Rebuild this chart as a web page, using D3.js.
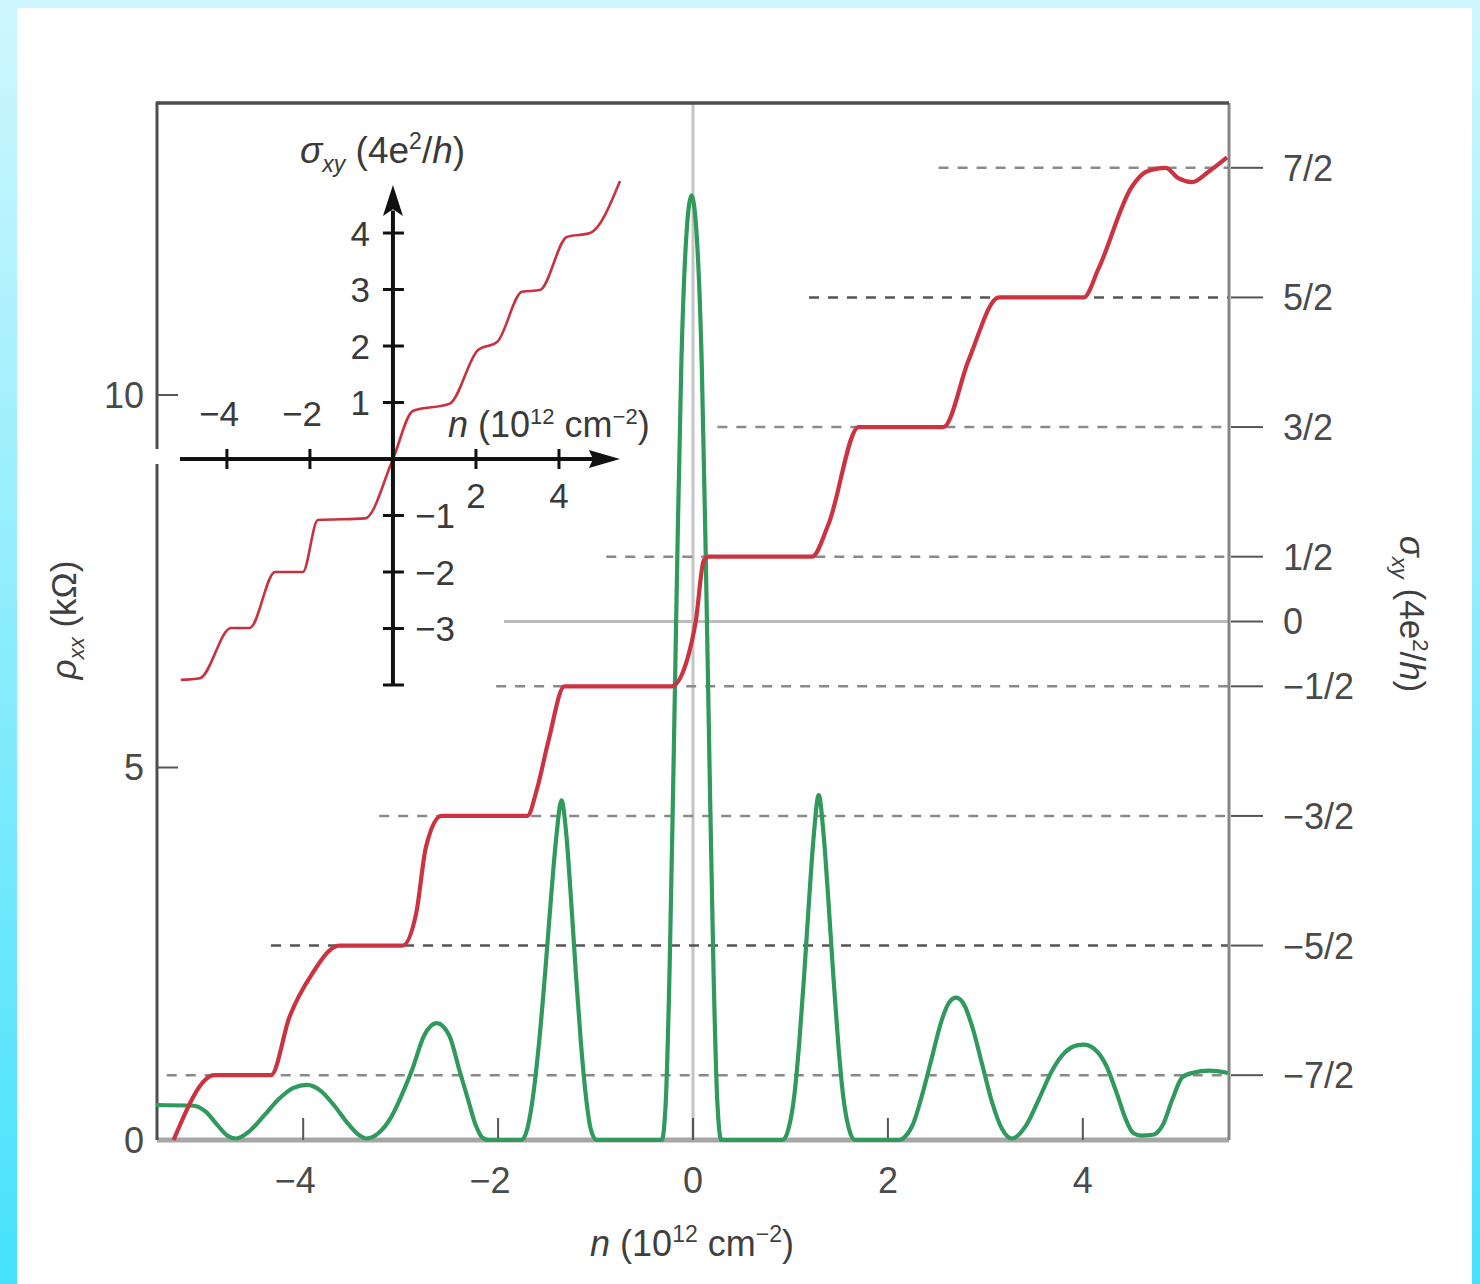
<!DOCTYPE html>
<html>
<head>
<meta charset="utf-8">
<script src="https://cdn.jsdelivr.net/npm/d3@7/dist/d3.min.js"></script>
<style>
  html, body { margin: 0; padding: 0; background: #fff; }
  svg { display: block; font-family: "Liberation Sans", Arial, sans-serif; }
</style>
</head>
<body>
<svg id="chart" width="1480" height="1284"></svg>
<script>
// ---- data ----
const xTicks = [-4, -2, 0, 2, 4];
const rhoTicks = [5, 10];
const rhoTickLabels = ['0', '5', '10'];
const sigmaLevels = [3.5, 2.5, 1.5, 0.5, 0, -0.5, -1.5, -2.5, -3.5];
const sigmaLabels = ['7/2', '5/2', '3/2', '1/2', '0', '\u22121/2', '\u22123/2', '\u22125/2', '\u22127/2'];
// n where each dashed plateau guide starts (0 is the solid grey line)
const guideStart = [2.52, 1.19, 0.25, -0.89, -1.94, -2.02, -3.22, -4.33, -5.4];

// sigma_xy (units of 4e^2/h) vs n (10^12 cm^-2), main panel
const sigmaXY = [
  [-5.33, -4.0], [-4.91, -3.5], [-4.33, -3.5], [-4.14, -3.05], [-3.91, -2.72], [-3.63, -2.5],
  [-2.98, -2.5], [-2.84, -2.25], [-2.74, -1.74], [-2.58, -1.5], [-1.70, -1.5], [-1.60, -1.29],
  [-1.48, -0.91], [-1.32, -0.5], [-0.22, -0.5], [-0.07, -0.32], [0.03, 0.01], [0.11, 0.47],
  [0.16, 0.5], [1.22, 0.5], [1.39, 0.75], [1.70, 1.5], [2.57, 1.5], [2.83, 2.02], [3.14, 2.5],
  [4.01, 2.5], [4.16, 2.72], [4.50, 3.35], [4.65, 3.47], [4.85, 3.5], [4.98, 3.42], [5.12, 3.39],
  [5.29, 3.47], [5.48, 3.58]
];

// rho_xx (kOhm) vs n
const rhoXX = [
  [-5.51, 0.47], [-5.12, 0.46], [-5.0, 0.38], [-4.88, 0.2], [-4.78, 0.06], [-4.69, 0.02],
  [-4.55, 0.12], [-4.40, 0.33], [-4.25, 0.55], [-4.10, 0.70], [-3.96, 0.74], [-3.82, 0.66],
  [-3.68, 0.46], [-3.54, 0.22], [-3.42, 0.06], [-3.35, 0.02],
  [-3.22, 0.1], [-3.10, 0.3], [-2.99, 0.6], [-2.88, 0.95], [-2.76, 1.4], [-2.63, 1.57],
  [-2.50, 1.4], [-2.40, 0.95], [-2.31, 0.55], [-2.23, 0.2], [-2.16, 0.03], [-2.10, 0],
  [-1.76, 0], [-1.70, 0.15], [-1.64, 0.6], [-1.58, 1.3], [-1.52, 2.2], [-1.46, 3.2],
  [-1.40, 4.1], [-1.35, 4.56], [-1.30, 4.1], [-1.25, 3.2], [-1.20, 2.2], [-1.15, 1.3],
  [-1.10, 0.6], [-1.05, 0.15], [-0.99, 0],
  [-0.32, 0], [-0.28, 0.5], [-0.24, 2.3], [-0.20, 5.0], [-0.16, 7.9], [-0.12, 10.4],
  [-0.07, 12.1], [-0.015, 12.68], [0.04, 12.1], [0.09, 10.4], [0.13, 7.9], [0.17, 5.0],
  [0.21, 2.3], [0.25, 0.5], [0.29, 0],
  [0.92, 0], [0.98, 0.15], [1.04, 0.6], [1.09, 1.3], [1.14, 2.2], [1.19, 3.2], [1.24, 4.1],
  [1.29, 4.63], [1.34, 4.1], [1.39, 3.2], [1.44, 2.2], [1.49, 1.3], [1.54, 0.6], [1.60, 0.15],
  [1.66, 0],
  [2.12, 0], [2.18, 0.05], [2.26, 0.22], [2.35, 0.6], [2.45, 1.1], [2.55, 1.6], [2.63, 1.85],
  [2.70, 1.91], [2.78, 1.82], [2.87, 1.5], [2.97, 1.0], [3.07, 0.5], [3.17, 0.15], [3.27, 0.02],
  [3.42, 0.2], [3.55, 0.55], [3.68, 0.92], [3.82, 1.18], [3.94, 1.27], [4.01, 1.28],
  [4.12, 1.22], [4.24, 1.0], [4.35, 0.62], [4.44, 0.28], [4.52, 0.09], [4.60, 0.06],
  [4.72, 0.07], [4.82, 0.2], [4.92, 0.55], [5.02, 0.84], [5.12, 0.9], [5.30, 0.93], [5.49, 0.9]
];

// inset: sigma_xy over a wider n range
const insetXTicks = [-4, -2, 2, 4];
const insetYTicks = [4, 3, 2, 1, -1, -2, -3, -4];
const insetSigma = [
  [-5.11, -3.91], [-4.65, -3.88], [-3.90, -2.99], [-3.45, -2.99], [-2.84, -2.0], [-2.17, -2.0],
  [-1.81, -1.08], [-0.67, -1.05], [0, 0], [0.48, 0.85], [1.37, 0.98], [2.05, 1.93], [2.51, 2.07],
  [3.11, 2.96], [3.54, 2.99], [4.19, 3.93], [4.75, 4.0], [5.47, 4.92]
];

// ---- drawing ----
const svg = d3.select('#chart');
const W = 1480, H = 1284;

const defs = svg.append('defs');
const grad = defs.append('linearGradient').attr('id', 'bg').attr('x1', 0).attr('y1', 0).attr('x2', 0).attr('y2', 1);
grad.append('stop').attr('offset', '0%').attr('stop-color', '#cff7fe');
grad.append('stop').attr('offset', '100%').attr('stop-color', '#46e2fb');

svg.append('rect').attr('width', W).attr('height', H).attr('fill', 'url(#bg)');
svg.append('rect').attr('x', 17).attr('y', 8).attr('width', 1455).attr('height', H - 8).attr('fill', '#fff');

const L = 157, R = 1229, T = 103, B = 1140;
const x = d3.scaleLinear().domain([-5.5, 5.5]).range([L, R]);
const yRho = d3.scaleLinear().domain([0, 13.92]).range([B, T]);
const ySig = d3.scaleLinear().domain([-4, 4]).range([B, T]);

const GREY = '#4e4e4e';

// n = 0 vertical guide
svg.append('line').attr('x1', x(0)).attr('x2', x(0)).attr('y1', T).attr('y2', B)
  .attr('stroke', '#c4c4c4').attr('stroke-width', 3);

// plateau guides
sigmaLevels.forEach((s, i) => {
  const isZero = s === 0;
  const dark = Math.abs(s) === 2.5;
  svg.append('line')
    .attr('x1', x(guideStart[i])).attr('x2', R)
    .attr('y1', ySig(s)).attr('y2', ySig(s))
    .attr('stroke', isZero ? '#bdbdbd' : (dark ? '#555' : '#8a8a8a'))
    .attr('stroke-width', isZero ? 3 : 2.6)
    .attr('stroke-dasharray', isZero ? null : '10,9');
  svg.append('line')
    .attr('x1', R + 2).attr('x2', R + 34)
    .attr('y1', ySig(s)).attr('y2', ySig(s))
    .attr('stroke', '#555').attr('stroke-width', 2);
  svg.append('text')
    .attr('x', R + 54).attr('y', ySig(s)).attr('dy', '0.36em')
    .attr('font-size', 36).attr('fill', '#4a4a4a')
    .text(sigmaLabels[i]);
});

// frame
svg.append('line').attr('x1', L).attr('x2', R).attr('y1', B).attr('y2', B).attr('stroke', '#a6a6a6').attr('stroke-width', 5);
svg.append('line').attr('x1', R).attr('x2', R).attr('y1', T).attr('y2', B).attr('stroke', '#858585').attr('stroke-width', 3);
svg.append('line').attr('x1', L).attr('x2', R).attr('y1', T).attr('y2', T).attr('stroke', GREY).attr('stroke-width', 3.5);
svg.append('line').attr('x1', L).attr('x2', L).attr('y1', T - 1.5).attr('y2', B).attr('stroke', GREY).attr('stroke-width', 3);
svg.append('rect').attr('x', L - 4).attr('y', 449).attr('width', 8).attr('height', 15).attr('fill', '#fff');

// bottom ticks + labels
svg.append('g').selectAll('line').data(xTicks).join('line')
  .attr('x1', (d) => x(d)).attr('x2', (d) => x(d)).attr('y1', B).attr('y2', B - 22)
  .attr('stroke', '#555').attr('stroke-width', 2);
svg.append('g').selectAll('text').data(xTicks).join('text')
  .attr('x', (d) => x(d) - (d < 0 ? 8 : 0)).attr('y', 1193)
  .attr('text-anchor', 'middle').attr('font-size', 36).attr('fill', '#4a4a4a')
  .text((d) => (d < 0 ? '\u2212' + Math.abs(d) : d));

// left ticks + labels
svg.append('g').selectAll('line').data(rhoTicks).join('line')
  .attr('x1', L).attr('x2', L + 21).attr('y1', (d) => yRho(d)).attr('y2', (d) => yRho(d))
  .attr('stroke', '#555').attr('stroke-width', 2);
svg.append('g').selectAll('text').data([0, 5, 10]).join('text')
  .attr('x', 144).attr('y', (d) => yRho(d)).attr('dy', '0.36em')
  .attr('text-anchor', 'end').attr('font-size', 36).attr('fill', '#4a4a4a')
  .text((d, i) => rhoTickLabels[i]);

// curves
const lineRho = d3.line().x((d) => x(d[0])).y((d) => yRho(d[1])).curve(d3.curveMonotoneX);
const lineSig = d3.line().x((d) => x(d[0])).y((d) => ySig(d[1])).curve(d3.curveMonotoneX);

svg.append('path').datum(rhoXX).attr('d', lineRho)
  .attr('fill', 'none').attr('stroke', '#2f9a5c').attr('stroke-width', 4.2).attr('stroke-linejoin', 'round');
svg.append('path').datum(sigmaXY).attr('d', lineSig)
  .attr('fill', 'none').attr('stroke', '#cc3340').attr('stroke-width', 4.2).attr('stroke-linejoin', 'round');

// ---- inset ----
const ix = d3.scaleLinear().domain([-5.13, 5.47]).range([180, 620]);
const iy = d3.scaleLinear().domain([-4, 4.85]).range([685, 185]);
const inset = svg.append('g');

inset.append('path').datum(insetSigma)
  .attr('d', d3.line().x((d) => ix(d[0])).y((d) => iy(d[1])).curve(d3.curveMonotoneX))
  .attr('fill', 'none').attr('stroke', '#c8323e').attr('stroke-width', 2.6);

// axes
inset.append('line').attr('x1', ix(-5.13)).attr('x2', ix(4.9)).attr('y1', iy(0)).attr('y2', iy(0))
  .attr('stroke', '#111').attr('stroke-width', 4);
inset.append('line').attr('x1', ix(0)).attr('x2', ix(0)).attr('y1', iy(-4)).attr('y2', iy(4.4))
  .attr('stroke', '#111').attr('stroke-width', 4);
inset.append('path')
  .attr('d', `M${ix(5.47)},${iy(0)} L${ix(4.72)},${iy(0) - 9} L${ix(4.82)},${iy(0)} L${ix(4.72)},${iy(0) + 9} Z`)
  .attr('fill', '#111');
inset.append('path')
  .attr('d', `M${ix(0)},${iy(4.85)} L${ix(0) - 10},${iy(4.3)} L${ix(0)},${iy(4.42)} L${ix(0) + 10},${iy(4.3)} Z`)
  .attr('fill', '#111');

inset.append('g').selectAll('line').data(insetXTicks).join('line')
  .attr('x1', (d) => ix(d)).attr('x2', (d) => ix(d)).attr('y1', iy(0) - 10).attr('y2', iy(0) + 10)
  .attr('stroke', '#111').attr('stroke-width', 3);
inset.append('g').selectAll('line').data(insetYTicks).join('line')
  .attr('x1', ix(0) - 10).attr('x2', ix(0) + 11).attr('y1', (d) => iy(d)).attr('y2', (d) => iy(d))
  .attr('stroke', '#111').attr('stroke-width', 3);

const insetFont = 35, insetInk = '#3a3a3a';
inset.append('g').selectAll('text').data(insetXTicks).join('text')
  .attr('x', (d) => (d < 0 ? ix(d) + 12 : ix(d)))
  .attr('y', (d) => (d < 0 ? 426 : 508))
  .attr('text-anchor', (d) => (d < 0 ? 'end' : 'middle'))
  .attr('font-size', insetFont).attr('fill', insetInk)
  .text((d) => (d < 0 ? '\u2212' + Math.abs(d) : d));
inset.append('g').selectAll('text').data(insetYTicks.filter((d) => d !== -4)).join('text')
  .attr('x', (d) => (d > 0 ? ix(0) - 23 : ix(0) + 22))
  .attr('y', (d) => iy(d)).attr('dy', '0.36em')
  .attr('text-anchor', (d) => (d > 0 ? 'end' : 'start'))
  .attr('font-size', insetFont).attr('fill', insetInk)
  .text((d) => (d < 0 ? '\u2212' + Math.abs(d) : d));

// inset axis titles
const sT = inset.append('text').attr('x', 300).attr('y', 163).attr('font-size', 37).attr('fill', insetInk);
sT.append('tspan').attr('font-style', 'italic').text('\u03c3');
sT.append('tspan').attr('font-style', 'italic').attr('font-size', 23).attr('dy', 9).text('xy');
sT.append('tspan').attr('dy', -9).text(' (4e');
sT.append('tspan').attr('font-size', 23).attr('dy', -14).text('2');
sT.append('tspan').attr('dy', 14).text('/');
sT.append('tspan').attr('font-style', 'italic').text('h');
sT.append('tspan').text(')');

const nT = inset.append('text').attr('x', 448).attr('y', 437).attr('font-size', 36).attr('fill', insetInk);
nT.append('tspan').attr('font-style', 'italic').text('n');
nT.append('tspan').text(' (10');
nT.append('tspan').attr('font-size', 22).attr('dy', -13).text('12');
nT.append('tspan').attr('dy', 13).text(' cm');
nT.append('tspan').attr('font-size', 22).attr('dy', -13).text('\u22122');
nT.append('tspan').attr('dy', 13).text(')');

// ---- main axis titles ----
const xT = svg.append('text').attr('x', 692).attr('y', 1256).attr('text-anchor', 'middle')
  .attr('font-size', 36).attr('fill', '#3f3f3f');
xT.append('tspan').attr('font-style', 'italic').text('n');
xT.append('tspan').text(' (10');
xT.append('tspan').attr('font-size', 23).attr('dy', -14).text('12');
xT.append('tspan').attr('dy', 14).text(' cm');
xT.append('tspan').attr('font-size', 23).attr('dy', -14).text('\u22122');
xT.append('tspan').attr('dy', 14).text(')');

const yL = svg.append('text').attr('transform', 'translate(76,620) rotate(-90)')
  .attr('text-anchor', 'middle').attr('font-size', 35).attr('fill', '#3f3f3f');
yL.append('tspan').attr('font-style', 'italic').text('\u03c1');
yL.append('tspan').attr('font-style', 'italic').attr('font-size', 22).attr('dy', 8).text('xx');
yL.append('tspan').attr('dy', -8).text(' (k\u03a9)');

const yR = svg.append('text').attr('transform', 'translate(1400,614) rotate(90)')
  .attr('text-anchor', 'middle').attr('font-size', 35).attr('fill', '#3f3f3f');
yR.append('tspan').attr('font-style', 'italic').text('\u03c3');
yR.append('tspan').attr('font-style', 'italic').attr('font-size', 22).attr('dy', 8).text('xy');
yR.append('tspan').attr('dy', -8).text(' (4e');
yR.append('tspan').attr('font-size', 22).attr('dy', -13).text('2');
yR.append('tspan').attr('dy', 13).text('/');
yR.append('tspan').attr('font-style', 'italic').text('h');
yR.append('tspan').text(')');
</script>
</body>
</html>
